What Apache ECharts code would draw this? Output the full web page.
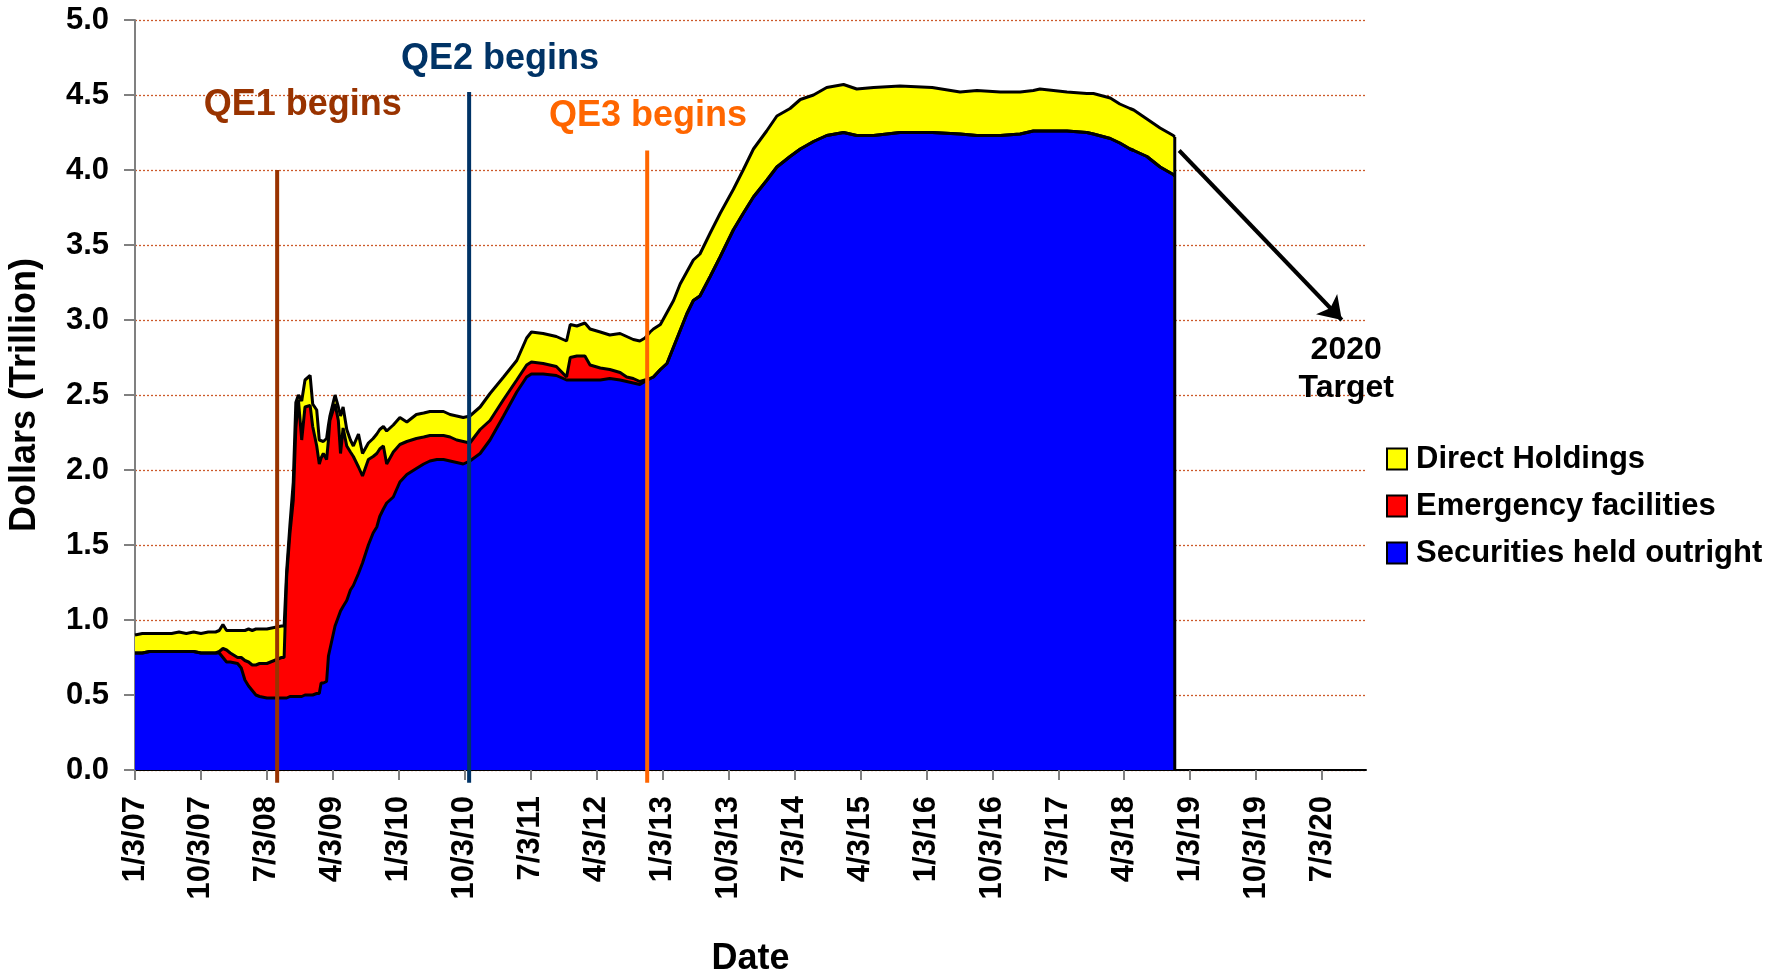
<!DOCTYPE html>
<html><head><meta charset="utf-8">
<script src="https://cdn.jsdelivr.net/npm/echarts@6/dist/echarts.min.js"></script>
<style>html,body{margin:0;padding:0;background:#fff}#c{width:1790px;height:975px}</style>
</head><body><div id="c"></div>
<script>
// months elapsed since 1/3/07
const months = [0,1,2,3,4,5,6,7,8,9,10,11,11.5,12,12.5,13,14,14.5,15,15.5,16,16.5,17,18,19,20,20.35,20.7,21.15,21.6,21.95,22.3,22.75,23.2,23.9,24.25,24.8,25.15,25.4,25.7,26.15,26.4,26.6,27.3,27.75,28.05,28.4,28.9,29.4,29.8,30.5,31.05,31.85,32.5,33,33.4,33.9,34.35,35.25,36.15,37.1,38.4,39.4,40.25,41.2,42.1,43,43.9,44.8,45.7,47.1,48.45,50.3,52.1,53.45,54.1,55.7,57.5,58.9,59.4,60.3,61.4,62.1,63.5,64.8,66.2,67.1,68,68.9,69.6,70.3,70.75,71.7,72.6,73.5,74.4,75.3,76.2,77.1,78.5,79.85,81.65,83,84.4,86.2,87.6,89.4,90.8,92.6,94.4,96.7,98.5,100.8,104.4,108.8,112.6,114.9,118.1,120.8,122.6,123.5,127.2,129.9,130.8,133.1,134.4,135.8,136.3,138.1,139.9,141.7,141.9];
const securities = [0.78,0.78,0.79,0.79,0.79,0.79,0.79,0.79,0.79,0.78,0.78,0.78,0.78,0.75,0.72,0.72,0.71,0.68,0.60,0.56,0.53,0.50,0.49,0.48,0.48,0.48,0.48,0.48,0.49,0.49,0.49,0.49,0.49,0.50,0.50,0.50,0.51,0.51,0.58,0.58,0.59,0.76,0.77,0.96,1.02,1.06,1.09,1.13,1.20,1.23,1.31,1.38,1.50,1.58,1.62,1.69,1.74,1.78,1.82,1.92,1.97,2.01,2.04,2.06,2.07,2.07,2.06,2.05,2.04,2.06,2.11,2.20,2.36,2.52,2.62,2.64,2.64,2.63,2.60,2.60,2.60,2.60,2.60,2.60,2.61,2.60,2.59,2.58,2.57,2.59,2.61,2.62,2.67,2.71,2.82,2.93,3.04,3.13,3.16,3.29,3.42,3.60,3.71,3.82,3.93,4.02,4.09,4.14,4.19,4.23,4.25,4.23,4.23,4.25,4.25,4.24,4.23,4.23,4.24,4.26,4.26,4.26,4.25,4.24,4.21,4.18,4.14,4.13,4.09,4.02,3.97,3.96];
const emergency = [0,0,0,0,0,0,0,0,0,0,0,0,0.01,0.06,0.08,0.06,0.04,0.07,0.13,0.16,0.17,0.20,0.22,0.23,0.25,0.27,0.27,0.81,1.09,1.31,1.79,1.98,1.71,1.92,1.93,1.79,1.65,1.53,1.50,1.53,1.48,1.44,1.56,1.48,1.31,1.05,1.19,1.03,0.92,0.86,0.71,0.58,0.57,0.51,0.49,0.45,0.42,0.26,0.30,0.25,0.22,0.20,0.18,0.17,0.16,0.16,0.16,0.15,0.15,0.12,0.16,0.13,0.11,0.08,0.08,0.08,0.07,0.06,0.02,0.15,0.16,0.16,0.10,0.08,0.06,0.05,0.03,0.03,0.02,0.01,0,0,0,0,0,0,0,0,0,0,0,0,0,0,0,0,0,0,0,0,0,0,0,0,0,0,0,0,0,0,0,0,0,0,0,0,0,0,0,0,0,0];
const direct = [0.12,0.13,0.12,0.12,0.12,0.12,0.13,0.12,0.13,0.13,0.14,0.14,0.14,0.16,0.13,0.15,0.18,0.18,0.20,0.22,0.23,0.24,0.23,0.23,0.22,0.21,0.21,0.04,0.06,0.12,0.17,0.03,0.26,0.18,0.20,0.15,0.24,0.16,0.11,0.08,0.14,0.10,0.03,0.06,0.09,0.25,0.14,0.11,0.08,0.07,0.22,0.15,0.11,0.12,0.13,0.13,0.13,0.22,0.18,0.18,0.13,0.16,0.16,0.16,0.16,0.16,0.15,0.16,0.16,0.18,0.15,0.18,0.15,0.13,0.18,0.20,0.20,0.20,0.24,0.22,0.20,0.22,0.24,0.24,0.23,0.26,0.27,0.26,0.27,0.28,0.31,0.32,0.30,0.34,0.31,0.31,0.28,0.27,0.28,0.29,0.29,0.27,0.29,0.32,0.33,0.34,0.32,0.33,0.31,0.32,0.32,0.31,0.32,0.31,0.30,0.28,0.30,0.29,0.28,0.27,0.28,0.26,0.26,0.27,0.27,0.26,0.27,0.27,0.25,0.26,0.26,0.26];
const tickLabels = ['1/3/07','10/3/07','7/3/08','4/3/09','1/3/10','10/3/10','7/3/11','4/3/12','1/3/13','10/3/13','7/3/14','4/3/15','1/3/16','10/3/16','7/3/17','4/3/18','1/3/19','10/3/19','7/3/20'];
const seriesNames = ['Securities held outright','Emergency facilities','Direct Holdings'];
const seriesColors = ['#0000FF','#FF0000','#FFFF00'];
// annotations (data coordinates: months, trillions)
const qeEvents = [
  {label:'QE1 begins', month:19.4, top:4.0, color:'#993300', textAt:[22.9,4.43]},
  {label:'QE2 begins', month:45.6, top:4.52, color:'#003366', textAt:[49.8,4.74]},
  {label:'QE3 begins', month:69.9, top:4.13, color:'#FF6600', textAt:[70.0,4.36]}
];
const targetArrow = {from:[142.5,4.13], to:[164.7,3.0], text:'2020\nTarget', textAt:[165.3,2.67]};

const lens = [months.length, securities.length, emergency.length, direct.length];
if (new Set(lens).size !== 1) throw new Error('length mismatch ' + lens.join(','));

const FONT = '"Liberation Sans", Arial, Helvetica, sans-serif';
// cumulative layer tops
const layerTops = [];
let run = months.map(()=>0);
[securities, emergency, direct].forEach(arr=>{
  run = run.map((v,i)=>+(v+arr[i]).toFixed(4));
  layerTops.push(run.slice());
});
const pairs = arr => months.map((m,i)=>[m, arr[i]]);

const series = [];
[2,1,0].forEach((k,j)=>{
  series.push({
    name: seriesNames[k], type:'line', data: pairs(layerTops[k]),
    symbol:'none', showSymbol:false, lineStyle:{width:0},
    itemStyle:{color:seriesColors[k]},
    areaStyle:{color:seriesColors[k], opacity:1, origin:'start'}, z:2+j*0.1, silent:true
  });
});
[0,1,2].forEach(k=>{
  series.push({
    name: seriesNames[k]+' edge', type:'line', data: pairs(layerTops[k]),
    symbol:'none', showSymbol:false, lineStyle:{width:3,color:'#000'}, z:3, silent:true
  });
});
const last = months.length-1;
series.push({name:'end', type:'line', data:[[months[last],0],[months[last],layerTops[2][last]]],
  symbol:'none', lineStyle:{width:3,color:'#000'}, z:3, silent:true});
qeEvents.forEach(e=>{
  series.push({name:e.label, type:'line', data:[[e.month,-0.085],[e.month,e.top]], clip:false,
    symbol:'none', lineStyle:{width:4,color:e.color}, z:5, silent:true});
});
series.push({name:'arrow', type:'line', data:[], silent:true, z:6,
  markLine:{silent:true, symbol:['none','arrow'], symbolSize:22, label:{show:false},
    itemStyle:{color:'#000'},
    lineStyle:{color:'#000', width:4, type:'solid'},
    data:[[{coord:targetArrow.from},{coord:targetArrow.to}]]}});
series.push({name:'labels', type:'scatter', symbolSize:0, silent:true, z:7, clip:false,
  itemStyle:{opacity:1},
  data: qeEvents.map(e=>({value:e.textAt, label:{show:true, position:'inside', formatter:e.label,
        color:e.color, opacity:1, fontSize:36, fontWeight:'bold', fontFamily:FONT}}))
    .concat([{value:targetArrow.textAt, label:{show:true, position:'inside', formatter:targetArrow.text,
        color:'#000', opacity:1, fontSize:32, fontWeight:'bold', fontFamily:FONT, lineHeight:38, align:'center'}}])
});

const tickVals = tickLabels.map((_,i)=>i*9);
const chart = echarts.init(document.getElementById('c'));
chart.setOption({
  animation:false,
  backgroundColor:'#fff',
  grid:{left:135, right:424, top:20, bottom:205, containLabel:false, outerBoundsMode:'none'},
  legend:{
    data:[seriesNames[2],seriesNames[1],seriesNames[0]],
    orient:'vertical', left:1386, top:442, padding:0, itemWidth:20, itemHeight:21, itemGap:13,
    icon:'rect', selectedMode:false,
    itemStyle:{borderColor:'#000', borderWidth:2},
    textStyle:{fontSize:31, fontWeight:'bold', color:'#000', fontFamily:FONT, lineHeight:34, padding:[0,0,0,4]}
  },
  xAxis:{
    type:'value', min:0, max:168, interval:9,
    name:'Date', nameLocation:'middle', nameGap:171,
    nameTextStyle:{fontSize:36, fontWeight:'bold', color:'#000', fontFamily:FONT},
    axisLine:{show:true, onZero:false, lineStyle:{color:'#000', width:2}},
    axisTick:{show:true, length:10, customValues:tickVals, lineStyle:{color:'#808080', width:2}},
    axisLabel:{rotate:90, margin:26, fontSize:31, fontWeight:'bold', color:'#000', fontFamily:FONT,
      customValues:tickVals, formatter:v=>{const i=Math.round(v/9); return (Math.abs(v-i*9)<1e-6 && tickLabels[i])?tickLabels[i]:'';}},
    splitLine:{show:false}
  },
  yAxis:{
    type:'value', min:0, max:5, interval:0.5,
    name:'Dollars (Trillion)', nameLocation:'middle', nameGap:92,
    nameTextStyle:{fontSize:36, fontWeight:'bold', color:'#000', fontFamily:FONT},
    axisLine:{show:true, lineStyle:{color:'#808080', width:2}},
    axisTick:{show:true, length:11, lineStyle:{color:'#808080', width:2}},
    axisLabel:{margin:26, fontSize:31, fontWeight:'bold', color:'#000', fontFamily:FONT, formatter:v=>v.toFixed(1)},
    splitLine:{show:true, lineStyle:{color:'#cc5a2a', width:1.3, type:[2,2]}}
  },
  series
});
</script></body></html>
